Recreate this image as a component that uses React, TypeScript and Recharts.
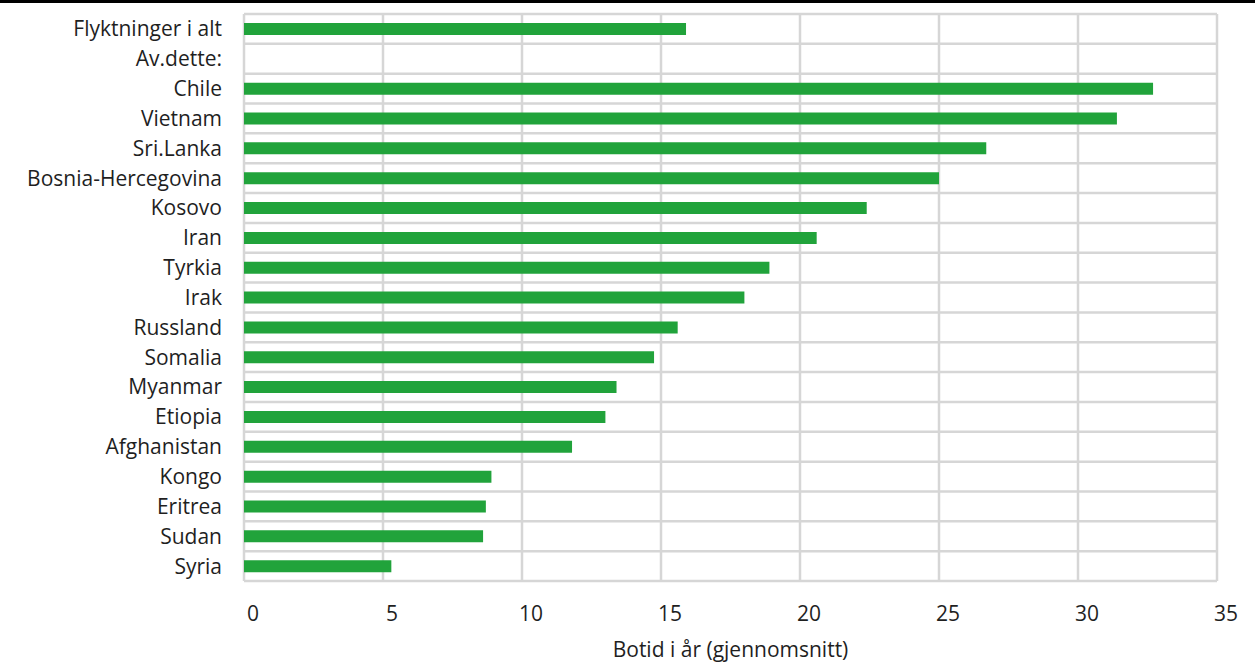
import React from 'react';
import { BarChart, Bar, XAxis, YAxis, CartesianGrid, Label } from 'recharts';

const countries = [
  'Flyktninger i alt',
  'Av.dette:',
  'Chile',
  'Vietnam',
  'Sri.Lanka',
  'Bosnia-Hercegovina',
  'Kosovo',
  'Iran',
  'Tyrkia',
  'Irak',
  'Russland',
  'Somalia',
  'Myanmar',
  'Etiopia',
  'Afghanistan',
  'Kongo',
  'Eritrea',
  'Sudan',
  'Syria',
];

const years: (number | null)[] = [
  15.9, null, 32.7, 31.4, 26.7, 25.0, 22.4, 20.6, 18.9, 18.0, 15.6, 14.75, 13.4, 13.0, 11.8, 8.9, 8.7, 8.6, 5.3,
];

const xTicks = [0, 5, 10, 15, 20, 25, 30, 35];

const data = countries.map((name, i) => ({ name, value: years[i] }));

const FONT = '"Open Sans", "Noto Sans", sans-serif';
const TEXT = '#1f1f1f';

// grid lines sit between the categories, not on them
const bandEdges = ({ offset }: any) => {
  const n = countries.length;
  const step = offset.height / n;
  return Array.from({ length: n + 1 }, (_, i) => offset.top + i * step);
};

export default function App() {
  return (
    <div style={{ position: 'fixed', top: 0, left: 0, width: 1255, height: 666, background: '#fff' }}>
      <BarChart
        width={1255}
        height={666}
        data={data}
        layout="vertical"
        margin={{ top: 14, right: 38, bottom: 0, left: 0 }}
        style={{ fontFamily: FONT }}
      >
        <CartesianGrid
          stroke="#d6d6d6"
          strokeWidth={2.5}
          horizontalCoordinatesGenerator={bandEdges}
        />
        <XAxis
          type="number"
          domain={[0, 35]}
          ticks={xTicks}
          height={85}
          axisLine={false}
          tickLine={false}
          tickSize={0}
          tickMargin={25}
          tick={{ fill: TEXT, fontSize: 21, dx: 9 }}
        >
          <Label value="Botid i år (gjennomsnitt)" position="insideBottom" offset={9} fill={TEXT} fontSize={21} />
        </XAxis>
        <YAxis
          type="category"
          dataKey="name"
          width={244}
          axisLine={false}
          tickLine={false}
          tickSize={0}
          tickMargin={22}
          interval={0}
          tick={{ fill: TEXT, fontSize: 21 }}
        />
        <Bar dataKey="value" fill="#21a33b" barSize={12} isAnimationActive={false} />
      </BarChart>
      <div style={{ position: 'absolute', top: 0, left: 0, width: 1255, height: 3, background: '#000', zIndex: 2 }} />
    </div>
  );
}
